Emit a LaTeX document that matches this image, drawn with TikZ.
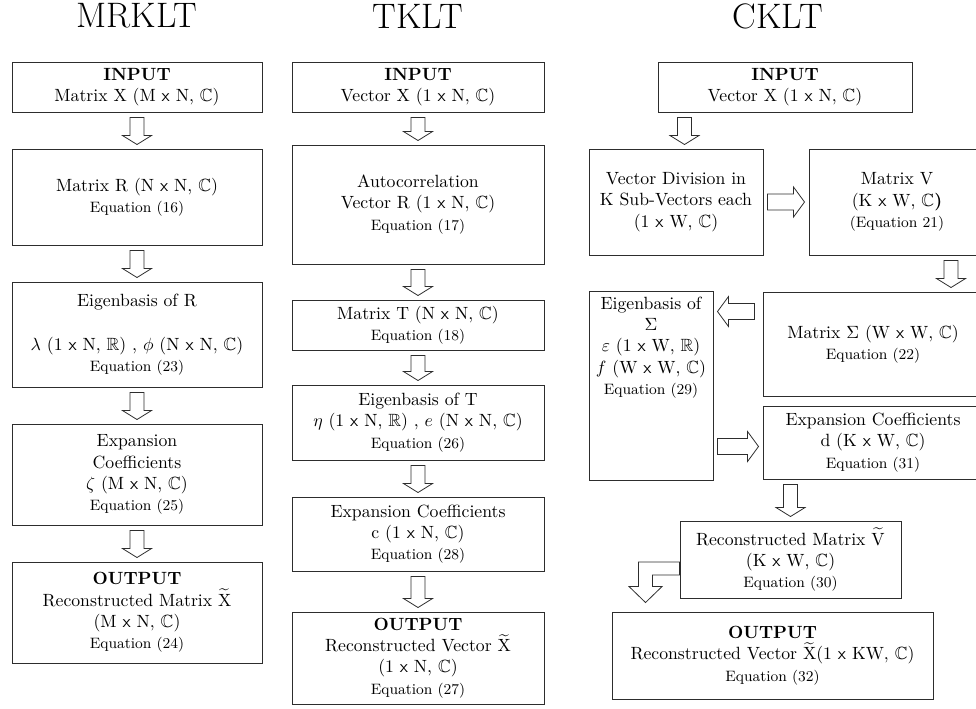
\documentclass[tikz,border=0pt]{standalone}
\usepackage{amsmath,amssymb}
\usepackage{tikz}
\usetikzlibrary{calc}
\definecolor{frame}{RGB}{45,45,45}
\newcommand{\px}{0.565pt}
\newcommand{\by}{\textsf{x}}
\newcommand{\eqnote}[1]{{\fontsize{8.5}{12}\selectfont #1}}
% hollow block arrows between boxes
\newcommand{\flowdown}[2]{%
  \draw[flowarrow] ($(#1)+(-7,5)$) -- ($(#1 |- #2)+(-7,-13)$) -- ++(-7.5,0)
    -- ($(#1 |- #2)+(0,-4)$) -- ($(#1 |- #2)+(14.5,-13)$) -- ++(-7.5,0)
    -- ($(#1)+(7,5)$) -- cycle;}
\newcommand{\flowright}[2]{%
  \draw[flowarrow] ($(#1)+(4,-8)$) -- ($(#2 |- #1)+(-15,-8)$) -- ++(0,-7)
    -- ($(#2 |- #1)+(-4,0)$) -- ($(#2 |- #1)+(-15,15)$) -- ++(0,-7)
    -- ($(#1)+(4,8)$) -- cycle;}
\newcommand{\flowleft}[2]{%
  \draw[flowarrow] ($(#1)+(-8,-8)$) -- ($(#2 |- #1)+(15,-8)$) -- ++(0,-7)
    -- ($(#2 |- #1)+(4,0)$) -- ($(#2 |- #1)+(15,15)$) -- ++(0,-7)
    -- ($(#1)+(-8,8)$) -- cycle;}

\begin{document}
\begin{tikzpicture}[x=\px, y=-\px,
    stage/.style={draw=frame, line width=0.55pt, align=center, inner sep=1pt},
    title/.style={font=\fontsize{20}{24}\selectfont},
    flowarrow/.style={draw=frame, line width=0.45pt, fill=white, line join=miter}]
    \useasboundingbox (0,0) rectangle (976,708);

    % Titles
    \node[title] (tmr) at (137,16) {MRKLT};
    \node[title] (ttk) at (418,16) {TKLT};
    \node[title] (tck) at (778,16) {CKLT};

    % MRKLT
    \node[stage, minimum width=250*\px, minimum height=50*\px] (m1) at (137,87)
        {\textbf{INPUT}\\ Matrix X (M \by{} N, $\mathbb{C}$)};
    \node[stage, minimum width=250*\px, minimum height=96*\px] (m2) at (137,197)
        {Matrix R (N \by{} N, $\mathbb{C}$)\\ \eqnote{Equation (16)}};
    \node[stage, minimum width=250*\px, minimum height=105*\px] (m3) at (137,334.5)
        {Eigenbasis of R\\[13pt] $\lambda$ (1 \by{} N, $\mathbb{R}$) , $\phi$ (N \by{} N, $\mathbb{C}$)\\ \eqnote{Equation (23)}};
    \node[stage, minimum width=250*\px, minimum height=101*\px] (m4) at (137,474.5)
        {Expansion\\ Coefficients\\ $\zeta$ (M \by{} N, $\mathbb{C}$)\\ \eqnote{Equation (25)}};
    \node[stage, minimum width=250*\px, minimum height=101*\px] (m5) at (137,612.5)
        {\textbf{OUTPUT}\\ Reconstructed Matrix $\widetilde{\mathrm{X}}$\\ (M \by{} N, $\mathbb{C}$)\\ \eqnote{Equation (24)}};

    % TKLT
    \node[stage, minimum width=252*\px, minimum height=50*\px] (t1) at (418,87)
        {\textbf{INPUT}\\ Vector X (1 \by{} N, $\mathbb{C}$)};
    \node[stage, minimum width=252*\px, minimum height=119*\px] (t2) at (418,204.5)
        {Autocorrelation\\ Vector R (1 \by{} N, $\mathbb{C}$)\\ \eqnote{Equation (17)}};
    \node[stage, minimum width=252*\px, minimum height=50*\px] (t3) at (418,325)
        {Matrix T (N \by{} N, $\mathbb{C}$)\\ \eqnote{Equation (18)}};
    \node[stage, minimum width=252*\px, minimum height=75*\px] (t4) at (418,422.5)
        {Eigenbasis of T\\ $\eta$ (1 \by{} N, $\mathbb{R}$) , $e$ (N \by{} N, $\mathbb{C}$)\\ \eqnote{Equation (26)}};
    \node[stage, minimum width=252*\px, minimum height=74*\px] (t5) at (418,534)
        {Expansion Coefficients\\ c (1 \by{} N, $\mathbb{C}$)\\ \eqnote{Equation (28)}};
    \node[stage, minimum width=252*\px, minimum height=92*\px] (t6) at (418,658)
        {\textbf{OUTPUT}\\ Reconstructed Vector $\widetilde{\mathrm{X}}$\\ (1 \by{} N, $\mathbb{C}$)\\ \eqnote{Equation (27)}};

    % CKLT
    \node[stage, minimum width=254*\px, minimum height=50*\px] (cin) at (785,87)
        {\textbf{INPUT}\\ Vector X (1 \by{} N, $\mathbb{C}$)};
    \node[stage, minimum width=174*\px, minimum height=106*\px] (cdiv) at (676,202)
        {Vector Division in\\ K Sub-Vectors each\\ (1 \by{} W, $\mathbb{C}$)};
    \node[stage, minimum width=176*\px, minimum height=106*\px] (cmat) at (897,202)
        {Matrix V\\ (K \by{} W, $\mathbb{C}$\textbf{)}\\ \eqnote{(Equation 21)}};
    \node[stage, minimum width=124*\px, minimum height=189*\px, inner sep=0pt] (ceig) at (651,385.5)
        {\parbox[c][100pt][t]{66pt}{\centering Eigenbasis of\\ $\Sigma$\\ $\varepsilon$ (1 \by{} W, $\mathbb{R}$)\\ $f$ (W \by{} W, $\mathbb{C}$)\\ \eqnote{Equation (29)}}};
    \node[stage, minimum width=220*\px, minimum height=104*\px] (csig) at (873,344)
        {Matrix $\Sigma$ (W \by{} W, $\mathbb{C}$)\\ \eqnote{Equation (22)}};
    \node[stage, minimum width=220*\px, minimum height=73*\px] (cexp) at (873,442.5)
        {Expansion Coefficients\\ d (K \by{} W, $\mathbb{C}$)\\ \eqnote{Equation (31)}};
    \node[stage, minimum width=221*\px, minimum height=77*\px] (crec) at (790.5,559.5)
        {Reconstructed Matrix $\widetilde{\mathrm{V}}$\\ (K \by{} W, $\mathbb{C}$)\\ \eqnote{Equation (30)}};
    \node[stage, minimum width=321*\px, minimum height=87*\px] (cout) at (772.5,655.5)
        {\textbf{OUTPUT}\\ Reconstructed Vector $\widetilde{\mathrm{X}}$(1 \by{} KW, $\mathbb{C}$)\\ \eqnote{Equation (32)}};

    % Arrows
    \flowdown{m1.south}{m2.north}
    \flowdown{m2.south}{m3.north}
    \flowdown{m3.south}{m4.north}
    \flowdown{m4.south}{m5.north}

    \flowdown{t1.south}{t2.north}
    \flowdown{t2.south}{t3.north}
    \flowdown{t3.south}{t4.north}
    \flowdown{t4.south}{t5.north}
    \flowdown{t5.south}{t6.north}

    \coordinate (cinfoot) at ($(cin.south west)+(27,0)$);
    \coordinate (cmatfoot) at ($(cmat.south)+(54,0)$);
    \coordinate (csighook) at ($(csig.north west)+(0,20)$);
    \coordinate (ceighook) at ($(ceig.east |- cexp.west)+(0,4)$);
    \coordinate (cexpfoot) at (crec.north |- cexp.south);
    \flowdown{cinfoot}{cdiv.north}
    \flowright{cdiv.east}{cmat.west}
    \flowdown{cmatfoot}{csig.north}
    \flowleft{csighook}{ceig.east}
    \flowright{ceighook}{cexp.west}
    \flowdown{cexpfoot}{crec.north}

    % Bent arrow into the output
    \coordinate (bendtip) at ($(crec.west |- cout.north)+(-34,-9)$);
    \draw[flowarrow] ($(crec.west)+(0,2.5)$) -- ($(crec.west)+(-41,2.5)$)
        -- ($(bendtip)+(-7,-16)$) -- ++(-9.5,0) -- (bendtip)
        -- ($(bendtip)+(16.5,-16)$) -- ($(bendtip)+(7,-16)$)
        -- ($(crec.west)+(-27,15.5)$) -- ($(crec.west)+(0,15.5)$) -- cycle;
\end{tikzpicture}
\end{document}
